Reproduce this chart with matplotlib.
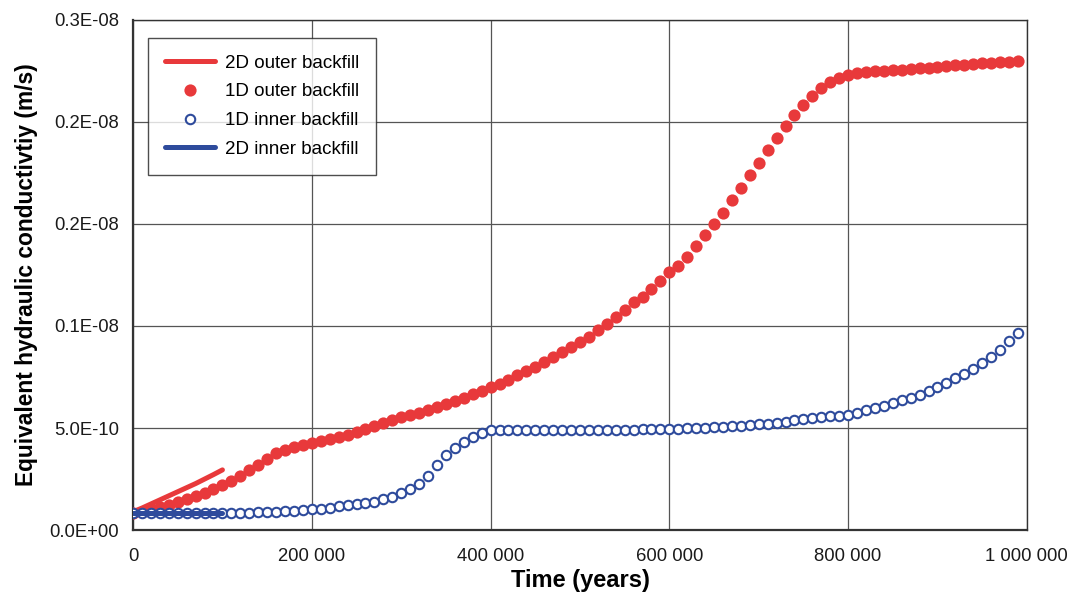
"""Equivalent hydraulic conductivity of backfill over time (1D vs 2D models)."""

import matplotlib

matplotlib.use("Agg")
import matplotlib.pyplot as plt
import numpy as np
from matplotlib.ticker import FixedFormatter, FixedLocator

plt.rcParams["font.family"] = ["Liberation Sans", "DejaVu Sans"]

# Time samples of the 1D model, every 10 000 years
TIME_1D = np.arange(0, 1_000_000, 10_000)

# 1D outer backfill, units of 1E-10 m/s
OUTER_1D = [
    0.83, 0.91, 1.01, 1.13, 1.23, 1.37, 1.52, 1.67, 1.82, 2.01,
    2.21, 2.41, 2.65, 2.95, 3.19, 3.49, 3.78, 3.93, 4.08, 4.17,
    4.27, 4.35, 4.44, 4.54, 4.66, 4.79, 4.96, 5.11, 5.25, 5.40,
    5.52, 5.65, 5.74, 5.87, 6.01, 6.16, 6.31, 6.48, 6.65, 6.82,
    7.00, 7.17, 7.37, 7.59, 7.81, 8.00, 8.25, 8.49, 8.74, 8.99,
    9.23, 9.48, 9.82, 10.11, 10.46, 10.80, 11.15, 11.44, 11.83, 12.18,
    12.62, 12.96, 13.40, 13.94, 14.48, 14.98, 15.52, 16.15, 16.74, 17.38,
    17.97, 18.61, 19.20, 19.79, 20.33, 20.82, 21.26, 21.65, 21.95, 22.14,
    22.29, 22.39, 22.44, 22.47, 22.50, 22.53, 22.56, 22.60, 22.63, 22.66,
    22.69, 22.73, 22.76, 22.80, 22.83, 22.86, 22.89, 22.92, 22.95, 22.98,
]

# 1D inner backfill, units of 1E-10 m/s
INNER_1D = [
    0.85, 0.85, 0.85, 0.85, 0.85, 0.85, 0.85, 0.85, 0.85, 0.85,
    0.85, 0.85, 0.85, 0.86, 0.87, 0.88, 0.90, 0.92, 0.93, 0.97,
    1.01, 1.05, 1.10, 1.16, 1.23, 1.28, 1.35, 1.40, 1.52, 1.64,
    1.80, 1.99, 2.26, 2.63, 3.19, 3.66, 4.00, 4.30, 4.58, 4.78,
    4.89, 4.90, 4.90, 4.90, 4.90, 4.90, 4.90, 4.90, 4.91, 4.91,
    4.91, 4.91, 4.91, 4.91, 4.92, 4.92, 4.92, 4.93, 4.93, 4.94,
    4.95, 4.96, 4.98, 4.99, 5.01, 5.03, 5.06, 5.09, 5.12, 5.15,
    5.18, 5.22, 5.27, 5.32, 5.37, 5.43, 5.48, 5.52, 5.57, 5.61,
    5.66, 5.76, 5.87, 5.98, 6.09, 6.22, 6.36, 6.49, 6.63, 6.82,
    7.01, 7.20, 7.43, 7.67, 7.91, 8.20, 8.50, 8.84, 9.25, 9.66,
]

# 2D model results, first 100 000 years
TIME_2D = [0, 10_000, 20_000, 30_000, 40_000, 50_000, 60_000, 70_000, 80_000, 90_000, 100_000]
OUTER_2D = [0.90, 1.08, 1.28, 1.48, 1.68, 1.88, 2.08, 2.28, 2.50, 2.72, 2.95]
INNER_2D = [0.84, 0.84, 0.84, 0.84, 0.84, 0.84, 0.84, 0.84, 0.84, 0.84, 0.84]

Y_TICKS = [0.0, 5e-10, 1e-9, 1.5e-9, 2e-9, 2.5e-9]
Y_TICK_LABELS = ["0.0E+00", "5.0E-10", "0.1E-08", "0.2E-08", "0.2E-08", "0.3E-08"]
X_TICKS = [0, 200_000, 400_000, 600_000, 800_000, 1_000_000]
X_TICK_LABELS = ["0", "200 000", "400 000", "600 000", "800 000", "1 000 000"]

RED = "#e8393b"
BLUE = "#2e4b9c"
SCALE = 1e-10


def main() -> None:
    fig = plt.figure(figsize=(10.73, 5.99), dpi=100)
    ax = fig.add_axes([0.124, 0.115, 0.833, 0.852])

    ax.plot(TIME_2D, np.array(OUTER_2D) * SCALE, color=RED, linewidth=3.6,
            solid_capstyle="round", label="2D outer backfill", zorder=3)
    ax.plot(TIME_1D, np.array(OUTER_1D) * SCALE, linestyle="none", marker="o",
            markersize=8.8, color=RED, markeredgewidth=0, label="1D outer backfill", zorder=4)
    ax.plot(TIME_1D, np.array(INNER_1D) * SCALE, linestyle="none", marker="o",
            markersize=6.8, markerfacecolor="white", markeredgecolor=BLUE,
            markeredgewidth=1.5, label="1D inner backfill", zorder=5)
    ax.plot(TIME_2D, np.array(INNER_2D) * SCALE, color=BLUE, linewidth=3.6,
            solid_capstyle="round", label="2D inner backfill", zorder=6)

    ax.set_xlim(0, 1_000_000)
    ax.set_ylim(0, 2.5e-9)
    ax.xaxis.set_major_locator(FixedLocator(X_TICKS))
    ax.xaxis.set_major_formatter(FixedFormatter(X_TICK_LABELS))
    ax.yaxis.set_major_locator(FixedLocator(Y_TICKS))
    ax.yaxis.set_major_formatter(FixedFormatter(Y_TICK_LABELS))
    ax.tick_params(axis="both", length=0, labelsize=13.3, colors="#1a1a1a")
    ax.tick_params(axis="x", pad=13)
    ax.tick_params(axis="y", pad=10)

    ax.grid(True, color="#555555", linewidth=0.9)
    ax.set_axisbelow(True)
    for side in ["left", "bottom"]:
        ax.spines[side].set_linewidth(1.6)
        ax.spines[side].set_color("#333333")
    for side in ["top", "right"]:
        ax.spines[side].set_linewidth(1.0)
        ax.spines[side].set_color("#333333")

    ax.set_xlabel("Time (years)", fontsize=17, fontweight="bold", labelpad=3)
    ax.set_ylabel("Equivalent hydraulic conductivtiy (m/s)", fontsize=16.4,
                  fontweight="bold", labelpad=8)

    leg = ax.legend(loc="upper left", bbox_to_anchor=(0.0165, 0.965), fontsize=13.5,
                    frameon=True, fancybox=False, edgecolor="#222222",
                    handlelength=2.7, handletextpad=0.5, borderpad=0.9,
                    labelspacing=0.62, borderaxespad=0.0)
    leg.get_frame().set_linewidth(1.0)
    leg.set_zorder(10)

    fig.savefig("out.png", dpi=100)
    plt.close(fig)


if __name__ == "__main__":
    main()
